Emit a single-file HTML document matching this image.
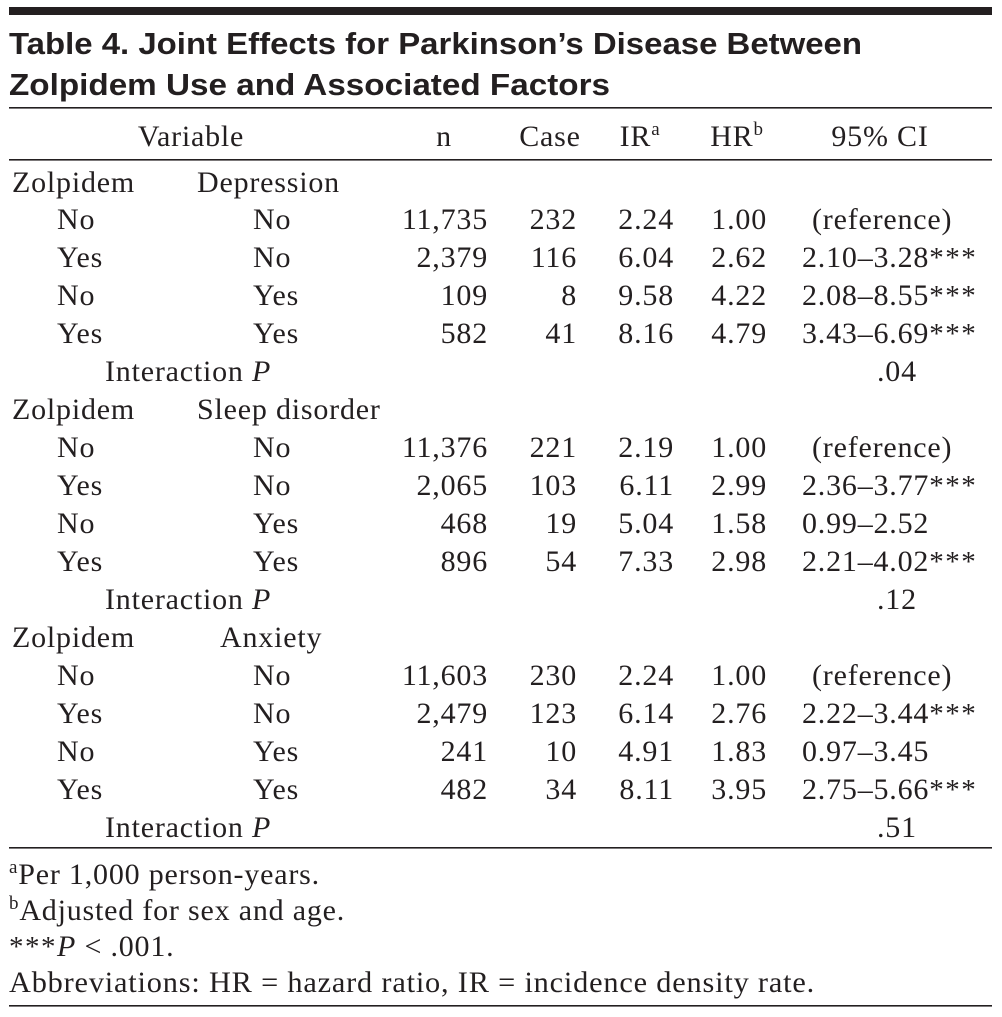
<!DOCTYPE html>
<html><head><meta charset="utf-8"><style>
html,body{margin:0;padding:0;background:#fff;}
svg{display:block}
text{font-family:"Liberation Serif",serif;font-size:30px;letter-spacing:0.8px;fill:#231f20}
.t{font-family:"Liberation Sans",sans-serif;font-weight:bold;font-size:31px;letter-spacing:0}
.r{text-anchor:end}.c{text-anchor:middle}
.s{font-size:29px;letter-spacing:1.5px}
</style></head><body>
<svg width="1002" height="1017" viewBox="0 0 1002 1017">
<rect x="9" y="7" width="983" height="8" fill="#231f20"/>
<text class="t" x="9" y="54" textLength="853" lengthAdjust="spacingAndGlyphs">Table 4. Joint Effects for Parkinson’s Disease Between</text>
<text class="t" x="9" y="95" textLength="601" lengthAdjust="spacingAndGlyphs">Zolpidem Use and Associated Factors</text>
<rect x="9" y="107" width="983" height="1.6" fill="#231f20"/>
<text class="c" x="191" y="146">Variable</text>
<text class="c" x="444" y="146">n</text>
<text class="c" x="550" y="146">Case</text>
<text class="c" x="640" y="146">IR<tspan font-size="19" dy="-11">a</tspan></text>
<text class="c" x="737" y="146">HR<tspan font-size="19" dy="-11">b</tspan></text>
<text class="c" x="880" y="146">95% CI</text>
<rect x="9" y="159" width="983" height="1.6" fill="#231f20"/>

<g>
<text x="12" y="192">Zolpidem</text><text x="197" y="192">Depression</text>
<text x="57" y="229">No</text><text x="253" y="229">No</text><text class="r" x="488" y="229">11,735</text><text class="r" x="577" y="229">232</text><text class="r" x="674" y="229">2.24</text><text class="r" x="767" y="229">1.00</text><text x="812" y="229">(reference)</text>
<text x="57" y="267">Yes</text><text x="253" y="267">No</text><text class="r" x="488" y="267">2,379</text><text class="r" x="577" y="267">116</text><text class="r" x="674" y="267">6.04</text><text class="r" x="767" y="267">2.62</text><text x="802" y="267">2.10–3.28<tspan class="s">***</tspan></text>
<text x="57" y="305">No</text><text x="253" y="305">Yes</text><text class="r" x="488" y="305">109</text><text class="r" x="577" y="305">8</text><text class="r" x="674" y="305">9.58</text><text class="r" x="767" y="305">4.22</text><text x="802" y="305">2.08–8.55<tspan class="s">***</tspan></text>
<text x="57" y="343">Yes</text><text x="253" y="343">Yes</text><text class="r" x="488" y="343">582</text><text class="r" x="577" y="343">41</text><text class="r" x="674" y="343">8.16</text><text class="r" x="767" y="343">4.79</text><text x="802" y="343">3.43–6.69<tspan class="s">***</tspan></text>
<text x="105" y="381">Interaction <tspan font-style="italic">P</tspan></text><text x="877" y="381">.04</text>

<text x="12" y="419">Zolpidem</text><text x="197" y="419">Sleep disorder</text>
<text x="57" y="457">No</text><text x="253" y="457">No</text><text class="r" x="488" y="457">11,376</text><text class="r" x="577" y="457">221</text><text class="r" x="674" y="457">2.19</text><text class="r" x="767" y="457">1.00</text><text x="812" y="457">(reference)</text>
<text x="57" y="495">Yes</text><text x="253" y="495">No</text><text class="r" x="488" y="495">2,065</text><text class="r" x="577" y="495">103</text><text class="r" x="674" y="495">6.11</text><text class="r" x="767" y="495">2.99</text><text x="802" y="495">2.36–3.77<tspan class="s">***</tspan></text>
<text x="57" y="533">No</text><text x="253" y="533">Yes</text><text class="r" x="488" y="533">468</text><text class="r" x="577" y="533">19</text><text class="r" x="674" y="533">5.04</text><text class="r" x="767" y="533">1.58</text><text x="802" y="533">0.99–2.52</text>
<text x="57" y="571">Yes</text><text x="253" y="571">Yes</text><text class="r" x="488" y="571">896</text><text class="r" x="577" y="571">54</text><text class="r" x="674" y="571">7.33</text><text class="r" x="767" y="571">2.98</text><text x="802" y="571">2.21–4.02<tspan class="s">***</tspan></text>
<text x="105" y="609">Interaction <tspan font-style="italic">P</tspan></text><text x="877" y="609">.12</text>

<text x="12" y="647">Zolpidem</text><text x="220" y="647">Anxiety</text>
<text x="57" y="685">No</text><text x="253" y="685">No</text><text class="r" x="488" y="685">11,603</text><text class="r" x="577" y="685">230</text><text class="r" x="674" y="685">2.24</text><text class="r" x="767" y="685">1.00</text><text x="812" y="685">(reference)</text>
<text x="57" y="723">Yes</text><text x="253" y="723">No</text><text class="r" x="488" y="723">2,479</text><text class="r" x="577" y="723">123</text><text class="r" x="674" y="723">6.14</text><text class="r" x="767" y="723">2.76</text><text x="802" y="723">2.22–3.44<tspan class="s">***</tspan></text>
<text x="57" y="761">No</text><text x="253" y="761">Yes</text><text class="r" x="488" y="761">241</text><text class="r" x="577" y="761">10</text><text class="r" x="674" y="761">4.91</text><text class="r" x="767" y="761">1.83</text><text x="802" y="761">0.97–3.45</text>
<text x="57" y="799">Yes</text><text x="253" y="799">Yes</text><text class="r" x="488" y="799">482</text><text class="r" x="577" y="799">34</text><text class="r" x="674" y="799">8.11</text><text class="r" x="767" y="799">3.95</text><text x="802" y="799">2.75–5.66<tspan class="s">***</tspan></text>
<text x="105" y="837">Interaction <tspan font-style="italic">P</tspan></text><text x="877" y="837">.51</text>
</g>
<rect x="9" y="847" width="983" height="1.6" fill="#231f20"/>
<text x="9" y="884"><tspan font-size="19" dy="-11">a</tspan><tspan dy="11">Per 1,000 person-years.</tspan></text>
<text x="9" y="920"><tspan font-size="19" dy="-11">b</tspan><tspan dy="11">Adjusted for sex and age.</tspan></text>
<text x="9" y="956"><tspan class="s">***</tspan><tspan font-style="italic">P</tspan> &lt; .001.</text>
<text x="9" y="992" textLength="806" lengthAdjust="spacingAndGlyphs">Abbreviations: HR = hazard ratio, IR = incidence density rate.</text>
<rect x="9" y="1005" width="983" height="1.6" fill="#231f20"/>
</svg>
</body></html>
